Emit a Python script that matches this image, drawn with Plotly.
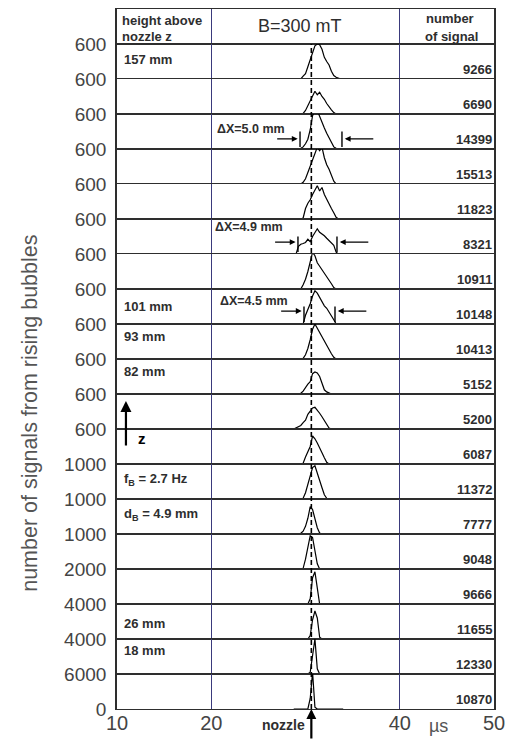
import plotly.graph_objects as go
from plotly.subplots import make_subplots

# ---------------- data ----------------
# time bins (µs) of the signal histograms
BINS_US = [28.75, 29.0, 29.25, 29.5, 29.75, 30.0, 30.25, 30.5, 30.75, 31.0, 31.25,
           31.5, 31.75, 32.0, 32.25, 32.5, 32.75, 33.0, 33.25, 33.5, 33.75, 34.0]

# full-scale value (top tick) of every stacked row, top to bottom
ROW_MAX = [600, 600, 600, 600, 600, 600, 600, 600, 600, 600, 600, 600,
           1000, 1000, 1000, 2000, 4000, 4000, 6000]

# number of signals per row
SIGNALS = [9266, 6690, 14399, 15513, 11823, 8321, 10911, 10148, 10413, 5152,
           5200, 6087, 11372, 7777, 9048, 9666, 11655, 12330, 10870]

# histogram counts per row (top to bottom)
C01 = [0, 0, 0, 0, 48, 90, 210, 330, 450, 570, 600, 588, 510, 372, 300, 240, 132, 60, 30, 12, 0, 0]
C02 = [0, 0, 0, 0, 12, 60, 150, 228, 312, 390, 330, 372, 300, 252, 180, 120, 72, 24, 0, 0, 0, 0]
C03 = [0, 0, 0, 12, 36, 90, 168, 330, 570, 660, 660, 552, 450, 360, 270, 192, 108, 36, 12, 0, 0, 0]
C04 = [0, 0, 0, 0, 30, 90, 198, 300, 408, 510, 630, 570, 630, 450, 330, 252, 150, 48, 0, 0, 0, 0]
C05 = [0, 0, 0, 0, 18, 180, 270, 330, 420, 510, 570, 480, 540, 420, 330, 270, 180, 108, 30, 0, 0, 0]
C06 = [0, 0, 132, 168, 180, 198, 252, 210, 300, 372, 432, 372, 348, 312, 270, 228, 180, 150, 30, 0, 0, 0]
C07 = [0, 0, 0, 0, 72, 168, 300, 510, 630, 570, 450, 390, 330, 288, 228, 168, 90, 24, 0, 0, 0, 0]
C08 = [0, 0, 0, 0, 0, 150, 240, 348, 480, 570, 528, 450, 372, 312, 270, 210, 132, 72, 0, 0, 0, 0]
C09 = [0, 0, 0, 0, 12, 72, 180, 330, 510, 600, 528, 432, 360, 300, 240, 168, 90, 30, 0, 0, 0, 0]
C10 = [0, 0, 0, 12, 48, 120, 168, 210, 348, 378, 360, 300, 180, 72, 36, 12, 0, 0, 0, 0, 0, 0]
C11 = [0, 18, 30, 60, 108, 150, 252, 312, 360, 372, 330, 270, 210, 150, 72, 18, 0, 0, 0, 0, 0, 0]
C12 = [0, 0, 0, 0, 12, 120, 228, 300, 480, 432, 360, 288, 192, 108, 30, 0, 0, 0, 0, 0, 0, 0]
C13 = [0, 0, 0, 0, 20, 180, 400, 650, 900, 950, 720, 520, 320, 120, 20, 0, 0, 0, 0, 0, 0, 0]
C14 = [0, 0, 0, 20, 80, 220, 450, 780, 700, 420, 180, 30, 0, 0, 0, 0, 0, 0, 0, 0, 0, 0]
C15 = [0, 0, 0, 0, 20, 280, 600, 950, 900, 500, 150, 0, 0, 0, 0, 0, 0, 0, 0, 0, 0, 0]
C16 = [0, 0, 0, 0, 0, 0, 0, 300, 1500, 1840, 800, 0, 0, 0, 0, 0, 0, 0, 0, 0, 0, 0]
C17 = [0, 0, 0, 0, 0, 0, 0, 400, 2200, 3200, 2400, 200, 0, 0, 0, 0, 0, 0, 0, 0, 0, 0]
C18 = [0, 0, 0, 0, 0, 0, 0, 200, 2400, 4000, 600, 0, 0, 0, 0, 0, 0, 0, 0, 0, 0, 0]
C19 = [0, 0, 0, 0, 0, 0, 0, 1800, 6300, 300, 0, 0, 0, 0, 0, 0, 0, 0, 0, 0, 0, 0]
PROFILES = [C01, C02, C03, C04, C05, C06, C07, C08, C09, C10,
            C11, C12, C13, C14, C15, C16, C17, C18, C19]

# height labels (data row index, 1-based) and texts
HEIGHT_ROWS = [1, 8, 9, 10, 17, 18]
HEIGHT_TEXT = ["157 mm", "101 mm", "93 mm", "82 mm", "26 mm", "18 mm"]

# width annotations: row, text, left edge, right edge (µs)
DX_ROWS = [3, 6, 8]
DX_TEXT = ["ΔX=5.0 mm", "ΔX=4.9 mm", "ΔX=4.5 mm"]
DX_LEFT = [29.42, 29.2, 29.84]
DX_RIGHT = [33.87, 33.34, 33.13]

X_TICKS = [10, 20, 40, 50]
NOZZLE_US = 30.62

# ---------------- figure ----------------
N = len(PROFILES)
FONT = "Liberation Sans, Arial, sans-serif"
DARK = "#2e2e2e"
NAVY = "#3a3a7c"

fig = make_subplots(rows=N + 1, cols=1, shared_xaxes=True, vertical_spacing=0)


def ax_id(r):
    return "" if r == 1 else str(r)


for i, counts in enumerate(PROFILES):
    fig.add_trace(go.Scatter(x=BINS_US, y=counts, mode="lines",
                             line=dict(color="black", width=1.2),
                             hoverinfo="skip", showlegend=False),
                  row=i + 2, col=1)

for r in range(1, N + 2):
    xa = dict(range=[10, 50], showline=True, mirror=True, linecolor=DARK, linewidth=1.4,
              showgrid=True, gridcolor=NAVY, gridwidth=1.2, zeroline=False,
              tickvals=X_TICKS, ticks="", showticklabels=(r == N + 1), automargin=False,
              tickfont=dict(family=FONT, size=20, color="#444"), ticklabelstandoff=-4)
    ya = dict(showline=True, mirror=True, linecolor=DARK, linewidth=1.6,
              showgrid=False, zeroline=False, ticks="", fixedrange=True, automargin=False,
              tickfont=dict(family=FONT, size=19, color="#444"), ticklabelstandoff=5)
    if r == 1:
        ya.update(range=[0, 1], showticklabels=False)
    else:
        m = ROW_MAX[r - 2]
        vals = [m] if r < N + 1 else [0, m]
        ya.update(range=[0, m], tickvals=vals, ticktext=[str(v) for v in vals])
    fig.layout["xaxis" + ax_id(r)].update(xa)
    fig.layout["yaxis" + ax_id(r)].update(ya)

ann = []
shapes = []
bold = dict(family=FONT, size=13, color=DARK)


def txt(text, x, y, r, xanchor="left", yanchor="middle", font=bold):
    ann.append(dict(text=text, x=x, y=y, xref="x" + ax_id(r),
                    yref="y" + ax_id(r) + " domain",
                    xanchor=xanchor, yanchor=yanchor, showarrow=False, font=font))


# header row
txt("<b>height above</b>", 10.35, 0.68, 1)
txt("<b>nozzle z</b>", 10.35, 0.2, 1)
txt("B=300 mT", 29.4, 0.5, 1, xanchor="center", font=dict(family=FONT, size=18, color=DARK))
txt("<b>number</b>", 45.3, 0.74, 1, xanchor="center")
txt("<b>of signal</b>", 45.5, 0.22, 1, xanchor="center")

# signal counts
for i, s in enumerate(SIGNALS):
    txt("<b>%d</b>" % s, 50.0, 0.27, i + 2, xanchor="right")

# height labels
LABEL_Y = [0.57, 0.49, 0.63, 0.63, 0.43, 0.66]
for rr, t, yy in zip(HEIGHT_ROWS, HEIGHT_TEXT, LABEL_Y):
    txt("<b>%s</b>" % t, 10.5, yy, rr + 1)

txt("<b>f<sub>B</sub> = 2.7 Hz</b>", 10.5, 0.55, 14)
txt("<b>d<sub>B</sub> = 4.9 mm</b>", 10.5, 0.57, 15)

# z arrow
ann.append(dict(x=10.95, y=0.8, xref="x12", yref="y12 domain", ax=0, ay=46,
                axref="pixel", ayref="pixel", showarrow=True, arrowhead=2,
                arrowsize=1, arrowwidth=2.2, arrowcolor="black", text=""))
txt("<b>z</b>", 12.0, 0.72, 13, font=dict(family=FONT, size=15, color="black"))

# Delta-X annotations
DX_TEXT_Y = [0.57, 0.77, 0.66]
DX_ARROW_Y = [0.29, 0.34, 0.37]
DX_TEXT_X = [20.4, 20.2, 20.7]
for rr, t, xl, xr, ty, ay_, tx in zip(DX_ROWS, DX_TEXT, DX_LEFT, DX_RIGHT, DX_TEXT_Y, DX_ARROW_Y, DX_TEXT_X):
    r = rr + 1
    txt("<b>%s</b>" % t, tx, ty, r, font=dict(family=FONT, size=12.5, color=DARK))
    for xv in (xl, xr):
        shapes.append(dict(type="line", xref="x" + ax_id(r), yref="y" + ax_id(r) + " domain",
                           x0=xv, x1=xv, y0=0.06, y1=0.5, line=dict(color="black", width=1.4)))
    for xv, off in ((xl - 0.25, -22), (xr + 0.3, 30)):
        ann.append(dict(x=xv, y=ay_, xref="x" + ax_id(r), yref="y" + ax_id(r) + " domain",
                        ax=off, ay=0, axref="pixel", ayref="pixel", showarrow=True,
                        arrowhead=2, arrowsize=0.9, arrowwidth=1.3, arrowcolor="black", text=""))

# dashed nozzle line through all data rows
shapes.append(dict(type="line", xref="x", yref="paper", x0=NOZZLE_US, x1=NOZZLE_US,
                   y0=0, y1=N / (N + 1), line=dict(color="black", width=1.6, dash="5px,3px")))

# nozzle arrow + label below the axis
last = N + 1
ann.append(dict(x=NOZZLE_US, y=0, xref="x" + ax_id(last), yref="y" + ax_id(last) + " domain",
                ax=0, ay=32, axref="pixel", ayref="pixel", showarrow=True, arrowhead=2,
                arrowsize=0.9, arrowwidth=2.2, arrowcolor="black", text=""))
ann.append(dict(text="<b>nozzle</b>", x=NOZZLE_US - 0.45, y=-0.023, xref="x" + ax_id(last),
                yref="paper", xanchor="right", yanchor="middle", showarrow=False,
                font=dict(family=FONT, size=14, color=DARK)))
ann.append(dict(text="µs", x=44.1, y=-0.024, xref="x" + ax_id(last), yref="paper",
                xanchor="center", yanchor="middle", showarrow=False,
                font=dict(family=FONT, size=18, color="#555")))

# y title
ann.append(dict(text="number of signals from rising bubbles", x=-0.231, y=0.423,
                xref="paper", yref="paper", textangle=-90, showarrow=False,
                xanchor="center", yanchor="middle",
                font=dict(family=FONT, size=21.5, color="#555")))

fig.update_layout(width=507, height=740,
                  margin=dict(l=117, r=13, t=9, b=31, autoexpand=False),
                  plot_bgcolor="white", paper_bgcolor="white",
                  annotations=ann, shapes=shapes, showlegend=False)

fig.write_html("out.html", config={"displayModeBar": False},
               post_script="document.body.style.margin='0';")
